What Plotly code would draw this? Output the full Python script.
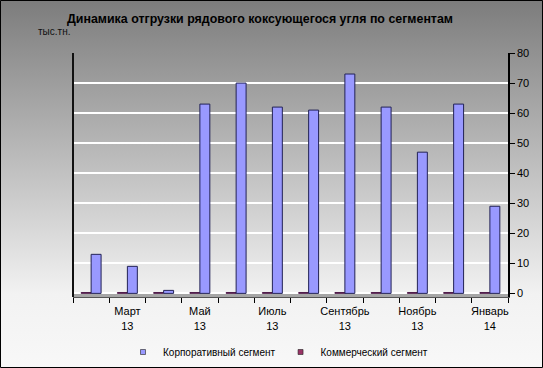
import base64
import plotly.graph_objects as go

categories = ["Февраль 13", "Март 13", "Апрель 13", "Май 13", "Июнь 13", "Июль 13",
              "Август 13", "Сентябрь 13", "Октябрь 13", "Ноябрь 13", "Декабрь 13", "Январь 14"]
tick_labels = ["", "Март<br>13", "", "Май<br>13", "", "Июль<br>13",
               "", "Сентябрь<br>13", "", "Ноябрь<br>13", "", "Январь<br>14"]
corporate = [13, 9, 1, 63, 70, 62, 61, 73, 62, 47, 63, 29]
commercial = [0.3, 0.3, 0.3, 0.3, 0.3, 0.3, 0.3, 0.3, 0.3, 0.3, 0.3, 0.3]
y_ticks = [0, 10, 20, 30, 40, 50, 60, 70, 80]
series_names = ["Корпоративный сегмент", "Коммерческий сегмент"]
series_colors = ["#9999ff", "#993366"]

W, H = 543, 368
ML, MR, MT, MB = 73, 35, 53, 71
PW, PH = W - ML - MR, H - MT - MB

svg = ('<svg xmlns="http://www.w3.org/2000/svg" width="543" height="368" preserveAspectRatio="none">'
       '<defs><linearGradient id="g" x1="0" y1="0" x2="0" y2="1">'
       '<stop offset="0" stop-color="#7c7c7c"/><stop offset="0.8" stop-color="#f2f2f2"/>'
       '<stop offset="1" stop-color="#f8f8f8"/></linearGradient></defs>'
       '<rect width="543" height="368" fill="url(#g)"/></svg>')
src = "data:image/svg+xml;base64," + base64.b64encode(svg.encode()).decode()

fx0 = -ML / PW
fw = W / PW
fy1 = 1 + MT / PH
fh = H / PH

fig = go.Figure()
fig.add_trace(go.Bar(x=categories, y=commercial, name=series_names[1], showlegend=False,
                     marker=dict(color=series_colors[1], line=dict(color="#330033", width=0.8))))
fig.add_trace(go.Bar(x=categories, y=corporate, name=series_names[0], showlegend=False,
                     marker=dict(color=series_colors[0], line=dict(color="#222255", width=1))))
for nm, col in zip(series_names, series_colors):
    fig.add_trace(go.Scatter(x=[None], y=[None], mode="markers", name=nm,
                             marker=dict(symbol="square", size=5, color=col,
                                         line=dict(color="#222222", width=0.6))))

fig.update_layout(
    width=W, height=H,
    margin=dict(l=ML, r=MR, t=MT, b=MB, autoexpand=False),
    paper_bgcolor="rgba(0,0,0,0)", plot_bgcolor="rgba(0,0,0,0)",
    barmode="group", bargap=0.45, bargroupgap=0.0,
    font=dict(family="Liberation Sans, Arial, sans-serif", color="#000000", size=11),
    title=dict(text="<b>Динамика отгрузки рядового коксующегося угля по сегментам</b>",
               x=260 / W, xanchor="center", y=1 - 19 / H, yanchor="middle",
               font=dict(size=12.4, color="#000000")),
    showlegend=True,
    legend=dict(orientation="h", x=(123 - ML) / PW, xref="paper", xanchor="left",
                y=-(352 - 297) / PH, yanchor="middle",
                font=dict(size=10), bgcolor="rgba(0,0,0,0)", itemwidth=30,
                tracegroupgap=0),
    xaxis=dict(tickvals=categories, ticktext=tick_labels, tickson="boundaries",
               ticks="outside", ticklen=5, tickcolor="#000000", showgrid=False,
               showline=True, linecolor="#555555", linewidth=1, automargin=False,
               ticklabelstandoff=4, tickfont=dict(size=11), tickangle=0),
    yaxis=dict(side="right", range=[-1.2, 80], tickvals=y_ticks, ticks="outside", ticklen=5,
               tickcolor="#000000", showline=True, linecolor="#000000", linewidth=1.5,
               showgrid=True, gridcolor="#ffffff", gridwidth=1.5, zeroline=False,
               automargin=False, tickfont=dict(size=11)),
    images=[dict(source=src, xref="paper", yref="paper", x=fx0, y=fy1,
                 sizex=fw, sizey=fh, sizing="stretch", xanchor="left", yanchor="top",
                 layer="below")],
    shapes=[
        dict(type="rect", xref="paper", yref="y", x0=0, x1=1, y0=-1.2, y1=0,
             fillcolor="#a6a6a6", line=dict(width=0), layer="below"),
        dict(type="line", xref="paper", yref="paper", x0=0, x1=0, y0=0, y1=1,
             line=dict(color="#111111", width=2)),
        dict(type="rect", xref="paper", yref="paper", x0=fx0 + 0.5 / PW, x1=fx0 + fw - 0.5 / PW,
             y0=fy1 - fh + 0.5 / PH, y1=fy1 - 0.5 / PH,
             line=dict(color="#000000", width=1), fillcolor="rgba(0,0,0,0)"),
    ],
    annotations=[dict(text="тыс.тн.", xref="paper", yref="paper", x=(54 - ML) / PW,
                      y=1 + (MT - 31) / PH, xanchor="center", yanchor="middle",
                      showarrow=False, font=dict(size=10, color="#111111"))],
)

fig.write_html("out.html", config={"displayModeBar": False},
               post_script="document.body.style.margin='0';document.body.style.overflow='hidden';")
